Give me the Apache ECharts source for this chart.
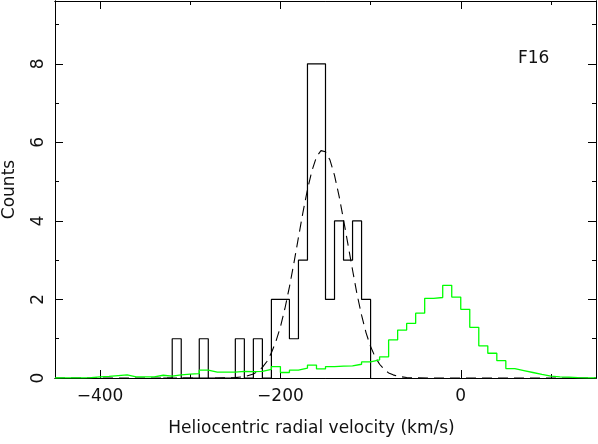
<!DOCTYPE html>
<html>
<head>
<meta charset="utf-8">
<script src="https://cdn.jsdelivr.net/npm/echarts@6/dist/echarts.min.js"></script>
<style>
  html, body { margin: 0; padding: 0; background: #fff; }
  #chart { width: 598px; height: 444px; }
</style>
</head>
<body>
<div id="chart"></div>
<script>
// field F16: observed stars, histogram with 10 km/s bins (left edges)
const starBins = [-330, -320, -310, -300, -290, -280, -270, -260, -250, -240, -230, -220,
  -210, -200, -190, -180, -170, -160, -150, -140, -130, -120, -110];
const starCounts = [0, 1, 0, 0, 1, 0, 0, 0, 1, 0, 1, 0,
  2, 2, 1, 3, 8, 8, 2, 4, 3, 4, 2];
const starEnd = -100;

// Besancon-like model, scaled (green), 10 km/s bins (left edges)
const modelBins = [-450, -440, -430, -420, -410, -400, -390, -380, -370, -360, -350, -340,
  -330, -320, -310, -300, -290, -280, -270, -260, -250, -240, -230, -220, -210, -200,
  -190, -180, -170, -160, -150, -140, -130, -120, -110, -100, -90, -80, -70, -60, -50,
  -40, -30, -20, -10, 0, 10, 20, 30, 40, 50, 60, 70, 80, 90, 100, 110, 120, 130, 140];
const modelCounts = [0.005, 0.005, 0.005, 0.01, 0.03, 0.04, 0.06, 0.08, 0.03, 0.03, 0.03, 0.07,
  0.05, 0.08, 0.10, 0.11, 0.20, 0.15, 0.15, 0.15, 0.17, 0.16, 0.17, 0.22, 0.29, 0.14,
  0.20, 0.25, 0.33, 0.23, 0.29, 0.30, 0.31, 0.35, 0.41, 0.46, 0.54, 0.97, 1.22, 1.39, 1.65,
  2.03, 2.05, 2.36, 2.06, 1.75, 1.29, 0.82, 0.63, 0.44, 0.24, 0.19, 0.14, 0.09, 0.05, 0.03,
  0.02, 0.01, 0.005, 0.005];
const modelEnd = 150;

// gaussian fit (dashed)
const fitV = [-450, -300, -270, -260, -250, -240, -230, -225, -220, -215, -210, -205, -200,
  -195, -190, -185, -180, -175, -170, -165, -160, -155, -150, -145, -140, -135, -130,
  -125, -120, -115, -110, -105, -100, -95, -90, -85, -80, -75, -70, -60, -50, -30, 150];
const fitCounts = [0, 0, 0.001, 0.003, 0.01, 0.035, 0.1, 0.17, 0.27, 0.42, 0.64, 0.93, 1.3,
  1.77, 2.32, 2.93, 3.58, 4.22, 4.8, 5.28, 5.63, 5.79, 5.76, 5.55, 5.16, 4.64, 4.03,
  3.39, 2.75, 2.13, 1.6, 1.15, 0.8, 0.54, 0.35, 0.22, 0.13, 0.08, 0.045, 0.013, 0.003, 0, 0];

const xMajorTicks = [-400, -200, 0];
const xMinorTicks = [-300, -100, 100];
const yMajorTicks = [0, 2, 4, 6, 8];
const yMinorTicks = [1, 3, 5, 7, 9];

function stepData(bins, counts, end) {
  const d = [[bins[0], 0]];
  bins.forEach((b, i) => d.push([b, counts[i]]));
  d.push([end, 0]);
  return d;
}

const FONT = 'DejaVu Sans';
const fmt = v => v < 0 ? '\u2212' + (-v) : String(v);

const chart = echarts.init(document.getElementById('chart'));

const xBase = {
  type: 'value', min: -450, max: 150, splitLine: { show: false },
  axisLine: { show: true, onZero: false, lineStyle: { color: '#000', width: 1 } }
};
const yBase = {
  type: 'value', min: 0, max: 9.6, splitLine: { show: false },
  axisLine: { show: true, onZero: false, lineStyle: { color: '#000', width: 1 } }
};
const tick = (vals, len) => ({ show: true, inside: true, length: len, customValues: vals,
  lineStyle: { color: '#000', width: 1 } });

const option = {
  animation: false,
  backgroundColor: '#fff',
  grid: { left: 55, right: 2, top: 1, bottom: 66, containLabel: false, outerBoundsMode: 'none' },
  xAxis: [
    Object.assign({}, xBase, {
      position: 'bottom',
      axisTick: tick(xMajorTicks, 8),
      axisLabel: { customValues: xMajorTicks, formatter: fmt, margin: 10,
        fontFamily: FONT, fontSize: 17, color: '#111' },
      name: 'Heliocentric radial velocity (km/s)',
      nameLocation: 'middle', nameGap: 42,
      nameTextStyle: { fontFamily: FONT, fontSize: 17, color: '#111', padding: [0, 28, 0, 0] }
    }),
    Object.assign({}, xBase, { position: 'bottom', axisTick: tick(xMinorTicks, 4), axisLabel: { show: false } }),
    Object.assign({}, xBase, { position: 'top', axisTick: tick(xMajorTicks, 8), axisLabel: { show: false } }),
    Object.assign({}, xBase, { position: 'top', axisTick: tick(xMinorTicks, 4), axisLabel: { show: false } })
  ],
  yAxis: [
    Object.assign({}, yBase, {
      position: 'left',
      axisTick: tick(yMajorTicks, 8),
      axisLabel: { customValues: yMajorTicks, rotate: 90, margin: 8,
        fontFamily: FONT, fontSize: 17, color: '#111' },
      name: 'Counts', nameLocation: 'middle', nameGap: 37, nameRotate: 90,
      nameTextStyle: { fontFamily: FONT, fontSize: 17, color: '#111' }
    }),
    Object.assign({}, yBase, { position: 'left', axisTick: tick(yMinorTicks, 4), axisLabel: { show: false } }),
    Object.assign({}, yBase, { position: 'right', axisTick: tick(yMajorTicks, 8), axisLabel: { show: false } }),
    Object.assign({}, yBase, { position: 'right', axisTick: tick(yMinorTicks, 4), axisLabel: { show: false } })
  ],
  graphic: [{
    type: 'text', left: 518, top: 50,
    style: { text: 'F16', font: '17px "DejaVu Sans"', fill: '#111' }
  }],
  series: [
    {
      name: 'F16 stars', type: 'line', step: 'end', showSymbol: false,
      data: stepData(starBins, starCounts, starEnd),
      lineStyle: { color: '#000', width: 1.2 }
    },
    {
      name: 'Gaussian fit', type: 'line', showSymbol: false,
      data: fitV.map((v, i) => [v, fitCounts[i]]),
      lineStyle: { color: '#000', width: 1.1, type: [10, 6] }
    },
    {
      name: 'Model', type: 'line', step: 'end', showSymbol: false,
      data: stepData(modelBins, modelCounts, modelEnd),
      lineStyle: { color: '#00ff00', width: 1.3 }
    }
  ]
};

chart.setOption(option);
</script>
</body>
</html>
